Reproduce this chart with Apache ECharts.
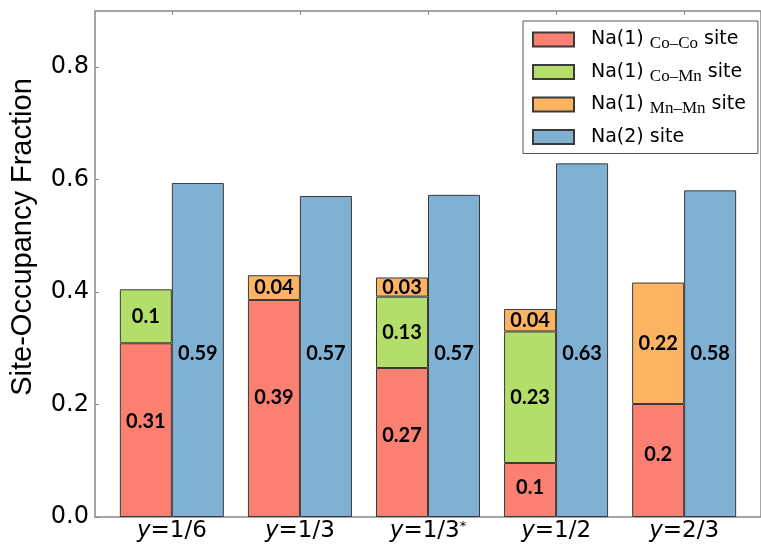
<!DOCTYPE html>
<html><head><meta charset="utf-8">
<script src="https://cdn.jsdelivr.net/npm/echarts@6/dist/echarts.min.js"></script>
<style>html,body{margin:0;padding:0;background:#fff}#c{width:761px;height:544px}</style>
</head><body><div id="c"></div>
<script>
// ---- data ----
const categories = ['y=1/6', 'y=1/3', 'y=1/3*', 'y=1/2', 'y=2/3'];
const coCo = [0.309, 0.386, 0.265, 0.096, 0.201];
const coMn = [0.096, 0, 0.127, 0.234, 0];
const mnMn = [0, 0.044, 0.034, 0.040, 0.216];
const na2  = [0.594, 0.571, 0.573, 0.629, 0.581];
const yTicks = [0, 0.2, 0.4, 0.6, 0.8];
const seriesNames = ['Na(1) Co–Co site', 'Na(1) Co–Mn site', 'Na(1) Mn–Mn site', 'Na(2) site'];
const legendSubs = ['Co–Co', 'Co–Mn', 'Mn–Mn', null];
const colors = ['#fb8072', '#b3de69', '#fdb462', '#80b1d3'];

const xIdx = categories.map((_, i) => i);

const labelCfg = {
  show: true, position: 'inside', color: '#000',
  fontFamily: 'Lato', fontWeight: 'bold', fontSize: 20,
  formatter: p => String(Math.round(p.value[0] * 100) / 100)
};
const itemStyle = c => ({ color: c, borderColor: '#3a3a3a', borderWidth: 1 });

// labelShift(v) returns a vertical label shift in pixels (style only)
function mkBar(name, arr, color, stack, labelShift) {
  return {
    type: 'bar', name, stack,
    data: arr.map((v, i) => {
      const item = { value: [v === 0 ? '-' : v, xIdx[i]] };
      if (labelShift) item.label = { offset: [0, labelShift(v)] };
      return item;
    }),
    encode: { x: 1, y: 0 },
    barWidth: 52, barGap: '0%',
    itemStyle: itemStyle(color), label: labelCfg,
    emphasis: { disabled: true }, animation: false
  };
}

const chart = echarts.init(document.getElementById('c'), null, { renderer: 'canvas' });
const xLabelFmt = v => {
  const s = categories[v];
  if (s === undefined) return '';
  let star = '';
  let body = s.slice(1);
  if (body.endsWith('*')) { star = '{sup|*}'; body = body.slice(0, -1); }
  return '{i|y}{n|' + body + '}' + star;
};
const gridTop = 11, gridBottom = 27, yMax = 0.9;
const pxPerUnit = (544 - gridTop - gridBottom) / yMax;
chart.setOption({
  animation: false,
  backgroundColor: '#fff',
  grid: { left: 94, top: gridTop, right: -7, bottom: gridBottom, show: true, borderColor: '#888', borderWidth: 1.5, containLabel: false },
  xAxis: [{
    type: 'value', min: -0.6, max: 4.6, position: 'bottom',
    axisLine: { show: false, onZero: false }, splitLine: { show: false },
    axisTick: { show: true, inside: true, length: 4, customValues: xIdx, lineStyle: { color: '#888' } },
    axisLabel: {
      customValues: xIdx, margin: 3, formatter: xLabelFmt, color: '#000',
      rich: {
        i: { fontFamily: 'DejaVu Sans', fontStyle: 'italic', fontSize: 23, color: '#000' },
        n: { fontFamily: 'DejaVu Sans', fontSize: 23, color: '#000' },
        sup: { fontFamily: 'DejaVu Sans', fontSize: 13, color: '#000', verticalAlign: 'top', lineHeight: 13 }
      }
    }
  }, {
    type: 'value', min: -0.6, max: 4.6, position: 'top',
    axisLine: { show: false, onZero: false }, splitLine: { show: false },
    axisTick: { show: true, inside: true, length: 4, customValues: xIdx, lineStyle: { color: '#888' } },
    axisLabel: { show: false }
  }],
  yAxis: {
    type: 'value', min: 0, max: yMax, position: 'left',
    name: 'Site-Occupancy Fraction', nameLocation: 'middle', nameGap: 58,
    nameTextStyle: { fontFamily: 'Liberation Sans', fontSize: 29, color: '#000', padding: [0, 0, 0, 54] },
    axisLine: { show: false, onZero: false }, splitLine: { show: false },
    axisTick: { show: true, inside: true, length: 4, customValues: yTicks, lineStyle: { color: '#888' } },
    axisLabel: { customValues: yTicks, margin: 6, fontFamily: 'DejaVu Sans', fontSize: 24, color: '#000', formatter: v => v.toFixed(1) }
  },
  legend: {
    orient: 'vertical', left: 523, top: 21,
    itemWidth: 41, itemHeight: 14, itemGap: 10,
    padding: [9, 12, 7, 9],
    borderColor: '#555', borderWidth: 1, backgroundColor: '#fff',
    icon: 'rect', selectedMode: false,
    data: seriesNames,
    formatter: name => {
      const i = seriesNames.indexOf(name);
      const sub = legendSubs[i];
      return sub ? '{m|Na(1)} {s|' + sub + '} {m|site}' : '{m|' + name + '}';
    },
    textStyle: {
      color: '#000', fontFamily: 'DejaVu Sans', fontSize: 19, padding: [0, 0, 0, 12],
      rich: {
        m: { fontFamily: 'DejaVu Sans', fontSize: 19, lineHeight: 26, color: '#000' },
        s: { fontFamily: 'Liberation Serif', fontSize: 17, lineHeight: 14, verticalAlign: 'bottom', color: '#000' }
      }
    }
  },
  series: [
    mkBar(seriesNames[0], coCo, colors[0], 'na1', v => -0.05 * v * pxPerUnit),
    mkBar(seriesNames[1], coMn, colors[1], 'na1'),
    mkBar(seriesNames[2], mnMn, colors[2], 'na1'),
    mkBar(seriesNames[3], na2, colors[3], 'na2', v => (v / 2 - 0.29) * pxPerUnit)
  ]
});
</script></body></html>
